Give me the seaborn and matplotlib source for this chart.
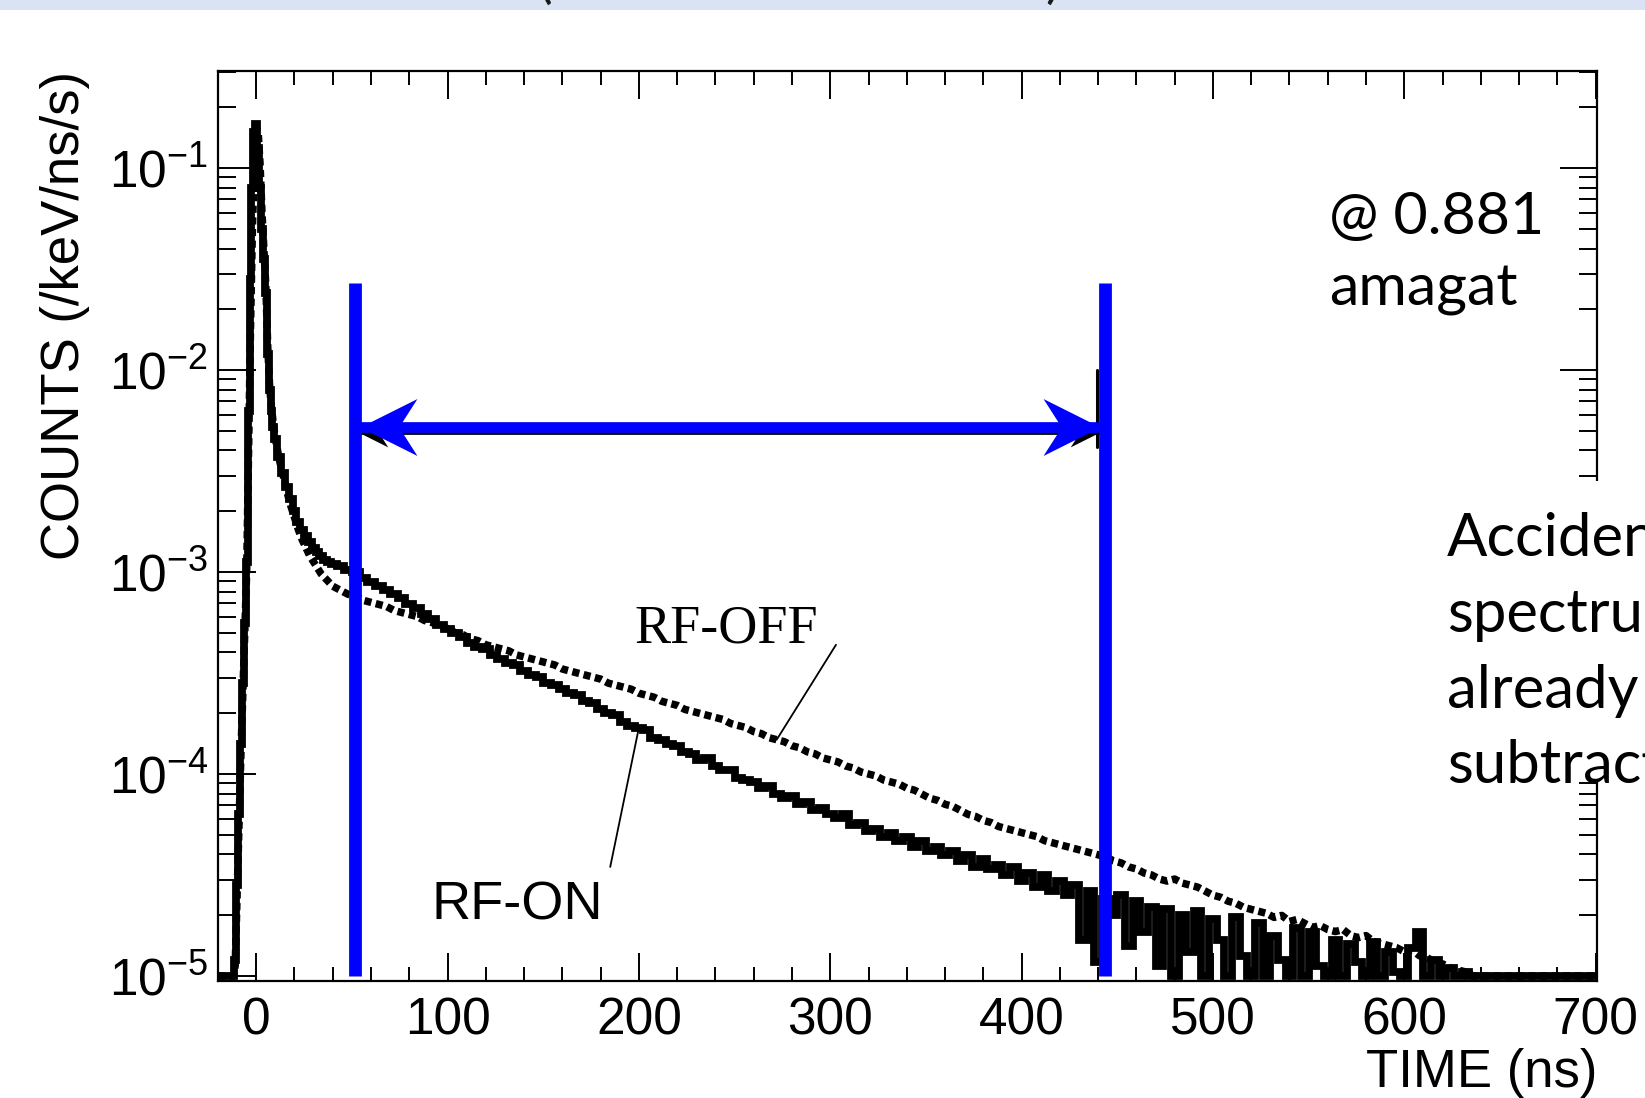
import numpy as np
import pandas as pd
import matplotlib
matplotlib.use("Agg")
import matplotlib.pyplot as plt
import seaborn as sns
from matplotlib.patches import Rectangle
from matplotlib.path import Path
from matplotlib.ticker import LogLocator, MultipleLocator, NullFormatter

# ---------------------------------------------------------------- data
# Bin centres (ns): coarse pre-trigger, 1 ns over the prompt peak, 2 ns, then 4 ns tail
time_ns = np.concatenate([
    np.array([-20, -16]),
    np.arange(-12, 11, 1),
    np.arange(12, 41, 2),
    np.arange(44, 701, 4),
])

# log10 of counts (/keV/ns/s); -5.0 marks empty bins sitting on the frame floor
rf_on_log10 = [
    -5.00, -5.00,
    -5.00, -4.92, -4.55, -4.20, -3.85, -3.55, -3.25, -2.95, -2.20, -1.55, -1.10, -0.82,
    -0.78, -0.90, -1.10, -1.30, -1.45, -1.62, -1.92, -2.10, -2.20, -2.28, -2.34,
    -2.43, -2.51, -2.58, -2.64, -2.70, -2.75, -2.79, -2.82, -2.85, -2.88, -2.90, -2.92, -2.94, -2.95, -2.96,
    -2.97, -2.99, -3.00, -3.03, -3.05, -3.07, -3.09, -3.11, -3.13, -3.16,
    -3.18, -3.21, -3.23, -3.26, -3.28, -3.30, -3.32, -3.35, -3.37, -3.38,
    -3.41, -3.43, -3.45, -3.46, -3.49, -3.51, -3.52, -3.55, -3.56, -3.58,
    -3.60, -3.61, -3.64, -3.65, -3.68, -3.70, -3.71, -3.74, -3.76, -3.77,
    -3.78, -3.82, -3.83, -3.85, -3.86, -3.89, -3.90, -3.93, -3.92, -3.96,
    -3.98, -3.98, -4.02, -4.03, -4.04, -4.07, -4.06, -4.10, -4.12, -4.11,
    -4.15, -4.14, -4.18, -4.17, -4.20, -4.22, -4.20, -4.25, -4.24, -4.28,
    -4.27, -4.31, -4.29, -4.33, -4.31, -4.36, -4.33, -4.38, -4.36, -4.40,
    -4.38, -4.43, -4.40, -4.46, -4.42, -4.47, -4.45, -4.50, -4.46, -4.53,
    -4.49, -4.56, -4.50, -4.58, -4.53, -4.60, -4.55, -4.82, -4.58, -4.93,
    -4.62, -4.70, -4.60, -4.85, -4.63, -4.78, -4.66, -4.95, -4.67, -5.00,
    -4.70, -4.88, -4.68, -5.00, -4.72, -4.82, -5.00, -4.71, -4.90, -5.00,
    -4.74, -5.00, -4.80, -4.92, -5.00, -4.76, -5.00, -4.78, -4.95, -5.00,
    -4.82, -5.00, -4.84, -4.93, -5.00, -4.83, -5.00, -4.88, -4.98, -5.00,
    -4.86, -4.78, -5.00, -4.92, -5.00, -4.96, -5.00, -4.98, -5.00, -5.00,
    -5.00, -5.00, -5.00, -5.00, -5.00, -5.00, -5.00, -5.00, -5.00, -5.00,
    -5.00, -5.00, -5.00, -5.00, -5.00,
]

rf_off_log10 = [
    -5.00, -5.00,
    -5.00, -4.95, -4.60, -4.25, -3.90, -3.60, -3.30, -3.00, -2.40, -1.80, -1.30, -0.98,
    -0.80, -0.82, -0.98, -1.22, -1.40, -1.58, -1.88, -2.08, -2.19, -2.27, -2.34,
    -2.44, -2.52, -2.60, -2.67, -2.73, -2.79, -2.84, -2.88, -2.92, -2.95, -2.98, -3.01, -3.03, -3.05, -3.07,
    -3.09, -3.11, -3.12, -3.14, -3.15, -3.16, -3.17, -3.19, -3.20, -3.21,
    -3.22, -3.24, -3.25, -3.27, -3.28, -3.30, -3.31, -3.33, -3.34, -3.36,
    -3.37, -3.38, -3.39, -3.41, -3.42, -3.43, -3.44, -3.45, -3.46, -3.48,
    -3.49, -3.50, -3.51, -3.52, -3.53, -3.55, -3.56, -3.57, -3.58, -3.60,
    -3.61, -3.62, -3.64, -3.65, -3.66, -3.68, -3.69, -3.70, -3.71, -3.72,
    -3.73, -3.75, -3.76, -3.77, -3.79, -3.80, -3.82, -3.83, -3.84, -3.86,
    -3.87, -3.89, -3.90, -3.92, -3.93, -3.94, -3.96, -3.97, -3.99, -4.00,
    -4.01, -4.03, -4.04, -4.05, -4.07, -4.08, -4.10, -4.12, -4.13, -4.15,
    -4.16, -4.18, -4.20, -4.21, -4.23, -4.24, -4.26, -4.27, -4.28, -4.29,
    -4.30, -4.31, -4.33, -4.34, -4.35, -4.36, -4.37, -4.38, -4.39, -4.40,
    -4.41, -4.43, -4.44, -4.46, -4.47, -4.49, -4.50, -4.52, -4.53, -4.52,
    -4.54, -4.55, -4.56, -4.58, -4.60, -4.61, -4.63, -4.64, -4.66, -4.67,
    -4.68, -4.69, -4.71, -4.70, -4.73, -4.72, -4.74, -4.76, -4.75, -4.77,
    -4.78, -4.77, -4.80, -4.81, -4.80, -4.83, -4.84, -4.85, -4.86, -4.88,
    -4.87, -4.90, -4.91, -4.93, -4.94, -4.96, -4.97, -4.98, -5.00, -5.00,
    -5.00, -5.00, -5.00, -5.00, -5.00, -5.00, -5.00, -5.00, -5.00, -5.00,
    -5.00, -5.00, -5.00, -5.00, -5.00,
]

# analysis window (ns) and the arrow spanning it
window_ns = [51.7, 443.4]
window_top = 10 ** -1.57
arrow_ns = [54.0, 441.0]
arrow_level = 10 ** -2.28

# leader-line anchors (time, log10 counts)
off_label_at = (197.6, -3.347)
off_leader_from = (303.0, -3.36)
off_leader_to_t = 272
on_label_at = (91.5, -4.72)
on_leader_from = (185.0, -4.46)
on_leader_to_t = 200

df = pd.DataFrame({
    "time_ns": time_ns,
    "RF-ON": 10 ** np.asarray(rf_on_log10),
    "RF-OFF": 10 ** np.asarray(rf_off_log10),
})

# ---------------------------------------------------------------- style
sns.set_theme(style="ticks")
plt.rcParams["font.family"] = ["Liberation Sans", "DejaVu Sans"]
plt.rcParams["mathtext.fontset"] = "custom"
plt.rcParams["mathtext.rm"] = "Liberation Sans"
plt.rcParams["mathtext.it"] = "Liberation Sans:italic"
plt.rcParams["mathtext.bf"] = "Liberation Sans:bold"
plt.rcParams["text.color"] = "black"
plt.rcParams["axes.labelcolor"] = "black"
plt.rcParams["xtick.color"] = "black"
plt.rcParams["ytick.color"] = "black"

BLUE = "#0000ff"

fig = plt.figure(figsize=(16.45, 10.98), dpi=100)
fig.patch.set_facecolor("white")
ax = fig.add_axes([0.1325, 0.1066, 0.8383, 0.8288])

# ---------------------------------------------------------------- spectra
sns.lineplot(data=df, x="time_ns", y="RF-ON", ax=ax, color="black",
             drawstyle="steps-mid", estimator=None, errorbar=None, zorder=2)
on_line = ax.lines[-1]
on_line.set_linewidth(5.6)
on_line.set_solid_joinstyle("miter")

# RF-OFF: bold dotted trace through the bin centres
sns.lineplot(data=df, x="time_ns", y="RF-OFF", ax=ax, color="black",
             estimator=None, errorbar=None, zorder=2)
off_line = ax.lines[-1]
off_line.set_linewidth(5.4)
off_line.set_linestyle((0, (0.95, 0.6)))
off_line.set_dash_capstyle("butt")

ax.set_yscale("log")
ax.set_xlim(-20, 700.7)
ax.set_ylim(9.45e-6, 0.303)

# ---------------------------------------------------------------- window markers
codes = [Path.MOVETO, Path.LINETO, Path.LINETO, Path.LINETO, Path.CLOSEPOLY]
head_right = Path([(0, 0), (-1, 0.5), (-0.68, 0), (-1, -0.5), (0, 0)], codes)
head_left = Path([(0, 0), (1, 0.5), (0.68, 0), (1, -0.5), (0, 0)], codes)

# thin black arrow underneath the blue one
under_level = 10 ** -2.31
ax.plot(arrow_ns, [under_level, under_level], color="black", lw=2, zorder=3)
ax.plot([arrow_ns[0]], [under_level], marker=head_left, ms=40, color="black",
        mew=0, ls="none", zorder=3)
ax.plot([arrow_ns[1] - 1], [under_level], marker=head_right, ms=40, color="black",
        mew=0, ls="none", zorder=3)
ax.plot([arrow_ns[1] - 1.6] * 2, [10 ** -2.0, 10 ** -2.38], color="black", lw=2.2, zorder=3)

ax.vlines(window_ns, 1e-5, window_top, colors=BLUE, lw=9.2, zorder=4)
ax.plot(arrow_ns, [arrow_level, arrow_level], color=BLUE, lw=7.7,
        solid_capstyle="butt", zorder=4)
ax.plot([arrow_ns[0]], [arrow_level], marker=head_left, ms=82, color=BLUE,
        mew=0, ls="none", zorder=4)
ax.plot([arrow_ns[1]], [arrow_level], marker=head_right, ms=82, color=BLUE,
        mew=0, ls="none", zorder=4)

# ---------------------------------------------------------------- curve labels
off_y = df.loc[df.time_ns == off_leader_to_t, "RF-OFF"].iloc[0]
on_y = df.loc[df.time_ns == on_leader_to_t, "RF-ON"].iloc[0]
ax.annotate("", xy=(off_leader_to_t, off_y),
            xytext=(off_leader_from[0], 10 ** off_leader_from[1]),
            arrowprops=dict(arrowstyle="-", color="black", lw=1.3,
                            shrinkA=0, shrinkB=0), zorder=3)
ax.annotate("", xy=(on_leader_to_t, on_y),
            xytext=(on_leader_from[0], 10 ** on_leader_from[1]),
            arrowprops=dict(arrowstyle="-", color="black", lw=1.3,
                            shrinkA=0, shrinkB=0), zorder=3)
ax.text(off_label_at[0], 10 ** off_label_at[1], "RF-OFF", family="Liberation Serif",
        fontsize=39, ha="left", va="baseline", zorder=3)
ax.text(on_label_at[0], 10 ** on_label_at[1], "RF-ON", family="Liberation Sans",
        fontsize=39, ha="left", va="baseline", zorder=3)

# ---------------------------------------------------------------- axes frame
for s in ax.spines.values():
    s.set_linewidth(1.6)
    s.set_color("black")

ax.xaxis.set_major_locator(MultipleLocator(100))
ax.xaxis.set_minor_locator(MultipleLocator(20))
ax.yaxis.set_major_locator(LogLocator(base=10, numticks=20))
ax.yaxis.set_minor_locator(LogLocator(base=10, subs=np.arange(2, 10), numticks=20))
ax.yaxis.set_minor_formatter(NullFormatter())

ax.tick_params(axis="x", which="major", direction="in", length=20, width=1.4,
               top=True, bottom=True, labelsize=37, pad=11)
ax.tick_params(axis="x", which="minor", direction="in", length=10, width=1.4,
               top=True, bottom=True)
ax.tick_params(axis="y", which="major", direction="in", length=27, width=1.4,
               left=True, right=True, labelsize=37, pad=7)
ax.tick_params(axis="y", which="minor", direction="in", length=13, width=1.4,
               left=True, right=True)

ax.set_xlabel("TIME (ns)", fontsize=38, loc="right")
ax.xaxis.label.set_va("baseline")
ax.xaxis.set_label_coords(1.0, -0.1165)
ax.set_ylabel("COUNTS (/keV/ns/s)", fontsize=38, loc="top")
ax.yaxis.label.set_va("baseline")
ax.yaxis.set_label_coords(-0.1008, 1.0)

# ---------------------------------------------------------------- slide decorations
fig.add_artist(Rectangle((0, 1 - 10 / 1098), 1, 10 / 1098, transform=fig.transFigure,
                         facecolor="#dae3f3", edgecolor="none", zorder=5))
fig.text(538 / 1645, 1 + 3 / 1098, "(", family="Lato", fontsize=40, color="#1a1a1a",
         ha="left", va="baseline", zorder=6)
fig.text(1045 / 1645, 1 + 3 / 1098, ")", family="Lato", fontsize=40, color="#1a1a1a",
         ha="left", va="baseline", zorder=6)

fig.text(1329 / 1645, 1 - 234 / 1098, "@ 0.881", family="Lato", fontsize=42.5,
         ha="left", va="baseline", zorder=6)
fig.text(1329 / 1645, 1 - 306 / 1098, "amagat", family="Lato", fontsize=42.5,
         ha="left", va="baseline", zorder=6)

fig.add_artist(Rectangle((1440 / 1645, 1 - 781 / 1098), 1 - 1440 / 1645, 300 / 1098,
                         transform=fig.transFigure, facecolor="white",
                         edgecolor="none", zorder=5))
note_lines = ["Accident", "spectrum", "already", "subtracted"]
note_baselines = [556, 632, 708, 783]
for line, yb in zip(note_lines, note_baselines):
    fig.text(1447 / 1645, 1 - yb / 1098, line, family="Lato", fontsize=43,
             ha="left", va="baseline", zorder=6)

fig.savefig("out.png", dpi=100, facecolor="white")
